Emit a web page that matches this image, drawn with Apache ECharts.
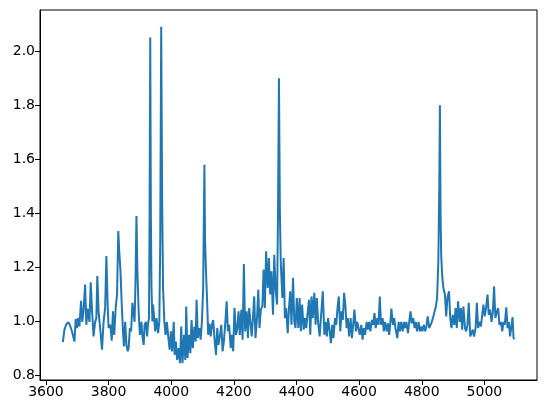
<!DOCTYPE html>
<html>
<head>
<meta charset="utf-8">
<script src="https://cdn.jsdelivr.net/npm/echarts@6/dist/echarts.min.js"></script>
<style>
html,body{margin:0;padding:0;background:#fff;}
#chart{width:547px;height:413px;}
</style>
</head>
<body>
<div id="chart"></div>
<script>
const wavelength = [
3654,3659,3665,3672,3678,3683,3689,3691,3695,3699,3702,3707,3712,3716,3720,3725,3729,3733,3739,3743,
3747,3752,3757,3761,3764,3768,3774,3779,3784,3789,3793,3797,3800,3806,3810,3814,3818,3823,3827,3831,
3834,3838,3842,3846,3849,3853,3857,3861,3864,3868,3872,3876,3880,3883,3886,3889,3892,3896,3900,3905,
3908,3912,3915,3919,3923,3926,3929,3931,3933,3935,3937,3940,3942,3945,3949,3953,3958,3962,3965,3968,
3971,3974,3978,3982,3986,3991,3995,3999,4003,4008,4011,4015,4019,4024,4028,4032,4036,4041,4045,4048,
4052,4057,4061,4065,4069,4074,4078,4081,4085,4090,4094,4098,4102,4104,4106,4108,4111,4115,4118,4122,
4126,4130,4134,4139,4143,4147,4151,4156,4160,4164,4168,4173,4177,4181,4185,4190,4194,4198,4202,4207,
4211,4215,4219,4224,4228,4232,4236,4241,4245,4249,4253,4257,4261,4265,4269,4274,4278,4282,4286,4291,
4295,4299,4303,4308,4312,4316,4320,4325,4329,4333,4338,4341,4344,4347,4350,4355,4359,4363,4367,4372,
4376,4380,4384,4389,4393,4397,4401,4406,4410,4414,4418,4423,4427,4431,4435,4440,4444,4448,4452,4457,
4461,4465,4469,4474,4478,4484,4489,4493,4497,4501,4506,4510,4514,4518,4523,4527,4531,4535,4540,4544,
4548,4552,4556,4560,4564,4568,4573,4577,4581,4585,4590,4594,4598,4602,4607,4611,4615,4619,4624,4628,
4632,4636,4641,4645,4649,4653,4658,4662,4666,4670,4675,4679,4683,4688,4692,4696,4700,4703,4708,4712,
4716,4722,4726,4730,4734,4739,4743,4747,4751,4756,4760,4764,4768,4773,4777,4781,4785,4790,4794,4798,
4802,4807,4811,4815,4819,4824,4828,4832,4837,4841,4845,4849,4853,4856,4858,4860,4862,4865,4869,4874,
4878,4882,4887,4891,4895,4899,4904,4908,4912,4916,4921,4925,4929,4933,4938,4942,4946,4950,4955,4959,
4963,4967,4972,4976,4980,4984,4989,4993,4997,5001,5006,5010,5014,5018,5023,5027,5031,5035,5040,5044,
5048,5053,5057,5061,5065,5070,5074,5078,5082,5087,5090,5093,5097
];
const flux = [
0.924,0.970,0.990,0.998,0.982,0.964,0.970,0.926,1.009,0.976,1.013,0.982,1.077,0.999,1.040,1.137,0.988,1.048,0.999,1.145,
1.044,0.945,0.999,1.013,1.168,1.038,0.964,0.896,0.999,1.050,1.242,1.063,0.976,0.988,0.929,1.038,0.951,1.056,1.100,1.335,
1.260,1.186,1.063,0.964,0.908,0.999,0.914,0.890,0.902,0.976,0.964,1.069,1.063,0.999,1.150,1.390,1.186,1.038,0.951,0.999,
0.945,0.914,0.988,0.999,0.945,0.993,1.013,1.400,2.050,1.400,1.124,1.000,1.063,1.069,0.964,1.013,0.957,0.999,1.300,2.090,
1.450,1.124,0.999,0.951,0.999,0.939,0.896,0.964,0.890,0.999,0.877,0.926,0.858,0.902,0.846,0.982,0.846,0.951,0.858,1.056,
0.865,0.951,0.883,1.006,0.902,0.982,0.926,1.081,0.939,0.976,0.933,0.999,1.124,1.350,1.580,1.300,1.186,1.063,0.951,0.993,
0.945,0.988,1.006,0.926,0.877,0.976,0.914,0.951,0.988,0.890,0.926,0.999,1.075,0.964,0.988,0.902,0.951,0.890,1.050,0.951,
0.976,1.038,0.951,1.044,0.933,1.213,0.964,1.038,0.939,1.050,0.999,0.945,1.013,1.093,0.939,1.013,1.118,0.976,1.044,1.056,
1.192,1.050,1.260,1.124,1.235,1.100,1.186,1.025,1.247,1.124,1.063,1.400,1.900,1.400,1.211,1.087,1.235,1.013,1.050,0.957,
1.050,1.112,0.988,1.162,0.999,0.976,1.087,0.976,1.087,0.964,1.063,0.970,1.013,0.976,1.025,1.081,0.951,1.093,1.013,1.106,
0.988,1.087,0.999,0.945,1.013,1.112,0.951,0.999,0.945,1.013,0.964,0.920,0.988,0.939,1.013,0.988,1.050,1.093,0.964,1.038,
1.006,1.106,1.063,0.976,1.013,0.945,1.013,0.939,0.988,1.044,0.964,0.999,0.976,0.951,0.988,0.933,0.976,0.951,0.999,0.970,
0.999,0.964,1.006,0.988,1.031,0.976,1.013,0.988,1.093,0.988,1.013,0.964,0.999,0.964,0.993,0.951,0.999,1.048,0.988,1.013,
0.976,0.939,0.999,0.964,0.999,0.964,0.999,0.976,0.999,0.957,0.999,1.038,0.993,1.013,0.976,0.999,0.964,0.999,0.964,0.982,
0.964,0.988,0.964,0.982,1.019,0.976,0.982,0.999,1.019,1.013,1.056,1.087,1.223,1.500,1.800,1.400,1.248,1.174,1.124,1.100,
1.019,1.087,1.112,1.013,0.976,1.025,0.988,1.050,0.976,1.075,0.999,1.050,0.970,1.056,0.976,0.964,0.988,1.069,0.945,0.951,
0.970,0.945,0.976,1.069,0.976,0.999,0.982,1.025,1.063,1.019,1.056,1.100,1.025,1.044,0.999,1.038,1.130,1.013,1.038,1.050,
0.988,0.999,0.964,0.999,0.988,1.053,0.976,0.999,0.945,0.951,1.016,0.939,0.936
];
const xTicks = [3600,3800,4000,4200,4400,4600,4800,5000];
const yTicks = [0.8,1.0,1.2,1.4,1.6,1.8,2.0];

const seriesData = wavelength.map((w,i)=>[w, flux[i]]);
const chart = echarts.init(document.getElementById('chart'), null, {renderer:'canvas'});
const font = 'DejaVu Sans';
chart.setOption({
  animation:false,
  backgroundColor:'#fff',
  grid:{left:40,right:10,top:10,bottom:33,show:true,borderColor:'#000',borderWidth:1,backgroundColor:'transparent'},
  xAxis:{
    type:'value', min:3581, max:5168,
    axisLine:{show:true,onZero:false,lineStyle:{color:'#000',width:1}},
    axisTick:{show:true,length:5,inside:false,customValues:xTicks,lineStyle:{color:'#000',width:1}},
    axisLabel:{customValues:xTicks,color:'#000',fontFamily:font,fontSize:14,margin:5,formatter:v=>String(v)},
    splitLine:{show:false}
  },
  yAxis:{
    type:'value', min:0.784, max:2.152,
    axisLine:{show:true,onZero:false,lineStyle:{color:'#000',width:1}},
    axisTick:{show:true,length:5,inside:false,customValues:yTicks,lineStyle:{color:'#000',width:1}},
    axisLabel:{customValues:yTicks,color:'#000',fontFamily:font,fontSize:14,margin:5,formatter:v=>v.toFixed(1)},
    splitLine:{show:false}
  },
  series:[{
    type:'line', data:seriesData, showSymbol:false, sampling:null,
    lineStyle:{color:'#1f77b4',width:2}, itemStyle:{color:'#1f77b4'}
  }]
});
</script>
</body>
</html>
